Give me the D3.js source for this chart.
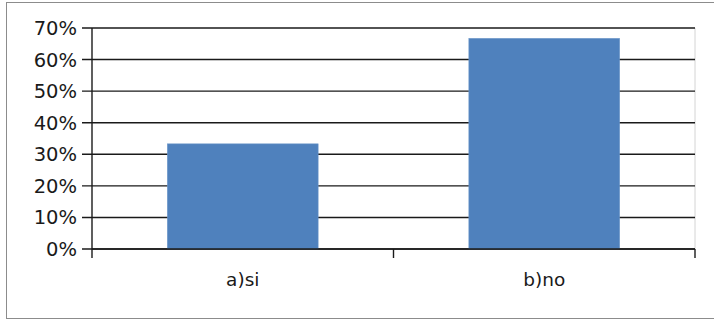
<!DOCTYPE html>
<html>
<head>
<meta charset="utf-8">
<script src="https://cdn.jsdelivr.net/npm/d3@7"></script>
<style>
  body { margin: 0; background: #fff; }
  svg { display: block; font-family: 'DejaVu Sans', sans-serif; }
</style>
</head>
<body>
<div id="chart"></div>
<script>
const categories = ['a)si', 'b)no']
const values = [0.333, 0.667]
const yTicks = [0, 0.1, 0.2, 0.3, 0.4, 0.5, 0.6, 0.7]

const width = 714
const height = 321
const plot = { left: 92, right: 695, top: 28, bottom: 249 }

const svg = d3.select('#chart').append('svg')
  .attr('width', width)
  .attr('height', height)

// outer frame (runs off the right edge)
svg.append('rect')
  .attr('x', 6.5).attr('y', 2.5)
  .attr('width', 720).attr('height', 316)
  .attr('fill', '#fff')
  .attr('stroke', '#8c8c8c')
  .attr('stroke-width', 1)

const x = d3.scaleBand()
  .domain(categories)
  .range([plot.left, plot.right])
  .paddingInner(0.5)
  .paddingOuter(0.25)

const y = d3.scaleLinear().domain([0, 0.7]).range([plot.bottom, plot.top])

// plot area right border
svg.append('line')
  .attr('x1', plot.right).attr('x2', plot.right)
  .attr('y1', plot.top).attr('y2', plot.bottom)
  .attr('stroke', '#d4d4d4')

// gridlines + y ticks
svg.append('g')
  .selectAll('line')
  .data(yTicks)
  .join('line')
  .attr('x1', plot.left - 10).attr('x2', plot.right)
  .attr('y1', d => y(d)).attr('y2', d => y(d))
  .attr('stroke', '#1a1a1a')
  .attr('stroke-width', 1.4)

// bars
svg.append('g')
  .selectAll('rect')
  .data(categories)
  .join('rect')
  .attr('x', d => x(d))
  .attr('width', x.bandwidth())
  .attr('y', (d, i) => y(values[i]))
  .attr('height', (d, i) => y(0) - y(values[i]))
  .attr('fill', '#4f81bd')
  .attr('stroke', '#6a95c9')
  .attr('stroke-width', 0.6)

// y axis line
svg.append('line')
  .attr('x1', plot.left).attr('x2', plot.left)
  .attr('y1', plot.top).attr('y2', plot.bottom + 9)
  .attr('stroke', '#1a1a1a')
  .attr('stroke-width', 1.4)

// x axis line and category boundary ticks
svg.append('line')
  .attr('x1', plot.left).attr('x2', plot.right)
  .attr('y1', plot.bottom).attr('y2', plot.bottom)
  .attr('stroke', '#1a1a1a')
  .attr('stroke-width', 1.4)

const bounds = categories.map((d, i) => plot.left + i * x.step()).concat([plot.right])
svg.append('g')
  .selectAll('line')
  .data(bounds.slice(1))
  .join('line')
  .attr('x1', d => d).attr('x2', d => d)
  .attr('y1', plot.bottom).attr('y2', plot.bottom + 9)
  .attr('stroke', '#1a1a1a')
  .attr('stroke-width', 1.4)

// y labels
svg.append('g')
  .selectAll('text')
  .data(yTicks)
  .join('text')
  .attr('x', 77)
  .attr('y', d => y(d))
  .attr('dy', '0.36em')
  .attr('text-anchor', 'end')
  .attr('font-size', '19.5px')
  .attr('fill', '#1a1a1a')
  .text(d => d3.format('.0%')(d))

// x labels
svg.append('g')
  .selectAll('text')
  .data(categories)
  .join('text')
  .attr('x', d => x(d) + x.bandwidth() / 2)
  .attr('y', 286)
  .attr('text-anchor', 'middle')
  .attr('font-size', '18.5px')
  .attr('fill', '#1a1a1a')
  .text(d => d)
</script>
</body>
</html>
